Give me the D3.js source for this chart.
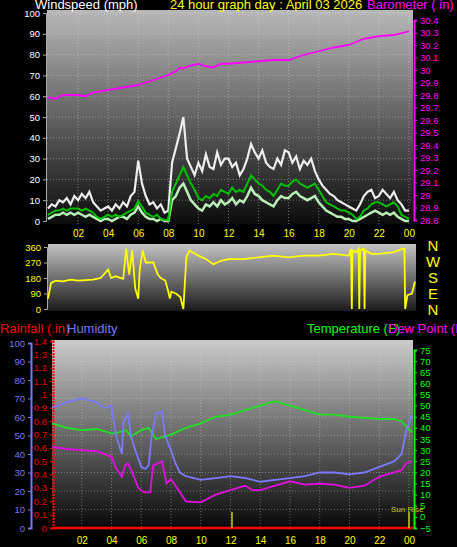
<!DOCTYPE html>
<html><head><meta charset="utf-8">
<script src="https://cdn.jsdelivr.net/npm/d3@7"></script>
<style>body{margin:0;background:#000}svg{display:block}</style>
</head><body><div id="chart"></div>
<script>
// wind, 15 minute samples from 00:00
var windGust = [6,8,7,10, 9,11,8,12, 10,13,11,14, 9,7,5,6, 7,5,8,6, 9,7,12,14, 29,18,12,8, 9,6,8,4,
  5,28,35,42, 50,30,26,22, 28,24,32,26, 25,33,27,30, 30,26,28,22, 25,30,37,33, 30,34,28,26, 25,30,27,34,
  33,28,31,25, 29,27,30,24, 20,17,15,13, 12,10,9,8, 7,6,5,8, 12,14,15,11, 12,15,13,11, 14,10,8,5, 5];
var windAvg = [3,4,5,5, 6,5,6,6, 6,5,6,5, 4,2,1,2, 3,2,3,2, 3,4,5,6, 9.5,7,4,3, 2,3,1,0.5,
  0.5,14,18,22, 26,22,18,15, 11,10,12,11, 13,12,15,14, 13,16,14,15, 14,18,22,20, 18,17,15,14, 12,15,18,17,
  17,19,20,18, 17,16,17,18, 15,12,9,8, 7,6,5,5, 4,3,1,2, 5,6,8,9, 9,8,7,8, 9,7,3,2, 1];
var windSpeed = [1,2,3,3, 4,3,4,3, 4,3,2,3, 2,1,0,1, 1,0,1,2, 2,1,3,4, 7,4,2,1, 1,0,1,0,
  0,10,12,16, 18,14,10,8, 6,5,8,7, 9,7,10,8, 9,11,8,10, 9,12,16,13, 12,10,9,8, 7,10,12,11,
  11,13,14,12, 11,10,11,12, 9,7,5,4, 3,2,2,1, 1,0,0,1, 2,3,4,5, 4,3,4,3, 4,2,1,0, 0];

var baroHour = [0,0.5,1,2,2.5,3,4,5,6,7,8,8.5,8.8,9,9.3,10,10.5,11,11.5,12,13,14,15,16,17,18,19,20,21,22,23,24];
var baroVal = [29.78,29.77,29.80,29.80,29.79,29.82,29.84,29.86,29.88,29.92,29.96,29.99,30.02,30.01,30.03,30.05,30.03,30.02,30.05,30.05,30.06,30.07,30.08,30.08,30.12,30.15,30.18,30.20,30.25,30.27,30.28,30.31];

var dirHour = [0,0.2,0.5,1,1.5,2,3,3.5,4,4.2,4.5,5,5.2,5.4,5.6,5.8,6,6.1,6.3,6.5,7,7.3,7.5,7.8,8,8.1,8.2,8.5,8.8,9,9.2,9.4,9.6,10,10.5,11,11.5,12,13,14,15,16,17,18,19,20,20.15,20.2,20.25,20.5,20.65,20.7,20.75,21.0,21.05,21.1,21.5,22,23,23.6,23.7,23.75,23.9,24.2,24.4];
var dirVal = [60,150,165,160,170,165,170,180,230,180,190,175,350,200,340,120,60,230,340,270,270,200,180,165,100,60,100,90,70,0,300,340,330,310,290,260,280,290,290,300,310,300,310,310,320,310,350,0,340,330,350,0,340,350,0,340,320,320,330,350,350,0,80,90,160];

var humHour = [0,1,2,3,3.5,4,4.1,4.3,4.5,4.7,4.8,5,5.1,5.3,5.6,6,6.3,6.5,6.7,7,7.4,7.6,8,8.3,8.6,9,10,11,12,13,14,15,16,17,18,19,20,21,22,23,23.5,23.8,24.2];
var humVal = [65,68,70,68,65,66,60,50,45,40,57,60,62,50,42,33,32,34,50,62,63,50,42,35,30,28,26,27,28,27,25,26,27,28,30,30,29,30,33,36,40,52,61];
var tempHour = [0,1,2,3,4,4.5,5,5.3,6,6.5,7,8,9,10,11,12,13,14,15,16,17,18,19,20,21,22,23,23.5,24.2];
var tempVal = [42,40,39,39.5,37.5,38,39,36,39,40,35,37,40,42,45,46,48,50,52,50,48,46,46,45,44.5,44,44,43,38];
var dewHour = [0,1,2,3,4,4.3,4.7,4.9,5.1,5.4,5.8,6.2,6.6,6.8,7.4,7.7,8,8.5,9,10,11,12,13,13.5,14,15,16,17,18,19,20,21,22,23,23.5,23.8,24.2];
var dewVal = [31.5,30.5,30,29.5,27,22,18,23,24,20,13,11,11,23,25,15,17,12,7,6.5,10,12,14,12,12,14,16,14.5,15,14.5,13,14,18,20,21,24,25];

var hourTicks = [2,4,6,8,10,12,14,16,18,20,22,24];
var hourLabels = ["02","04","06","08","10","12","14","16","18","20","22","00"];
var compass = ["N","W","S","E","N"];

var W = 457, H = 547;
var svg = d3.select("#chart").append("svg").attr("width", W).attr("height", H)
  .style("font-family", "Liberation Sans, Arial, sans-serif");
var defs = svg.append("defs");
function grad(id, top, bottom) {
  var g = defs.append("linearGradient").attr("id", id).attr("x1", 0).attr("y1", 0).attr("x2", 0).attr("y2", 1);
  g.append("stop").attr("offset", "0%").attr("stop-color", top);
  g.append("stop").attr("offset", "100%").attr("stop-color", bottom);
}
grad("g1", "#b8b8b8", "#0c0c0c");
grad("g2", "#c4c4c4", "#1a1a1a");
grad("g3", "#cacaca", "#050505");

var qh = windGust.map(function(d, i) { return i / 4; });

// ---------- top panel: wind + barometer
var x1 = d3.scaleLinear().domain([0, 24.47]).range([48, 416]);
var yW = d3.scaleLinear().domain([0, 100]).range([221, 13]);
var yB = d3.scaleLinear().domain([28.8, 30.4]).range([220, 20]);
svg.append("rect").attr("x", 47).attr("y", 10).attr("width", 366).attr("height", 214).attr("fill", "url(#g1)");
var grid1 = svg.append("g").attr("stroke", "#ddd").attr("stroke-opacity", 0.45).attr("stroke-dasharray", "1,2");
grid1.selectAll("line.h").data(d3.range(10, 101, 10)).join("line")
  .attr("x1", 47).attr("x2", 413).attr("y1", yW).attr("y2", yW);
grid1.selectAll("line.v").data(hourTicks).join("line")
  .attr("x1", x1).attr("x2", x1).attr("y1", 10).attr("y2", 224);

svg.append("g").attr("transform", "translate(46,0)")
  .call(d3.axisLeft(yW).tickValues(d3.range(0, 101, 10)).tickSize(3))
  .call(function(g) { g.select(".domain").attr("stroke", "#aaa"); g.selectAll("line").attr("stroke", "#aaa");
    g.selectAll("text").attr("fill", "#fff").attr("font-size", 9.5); });
svg.append("g").attr("transform", "translate(414,0)")
  .call(d3.axisRight(yB).tickValues(d3.range(28.8, 30.41, 0.1)).tickFormat(function(d) { return +d.toFixed(1); }).tickSize(3))
  .call(function(g) { g.select(".domain").attr("stroke", "#f0f").attr("stroke-width", 2); g.selectAll("line").attr("stroke", "#f0f");
    g.selectAll("text").attr("fill", "#f0f").attr("font-size", 9.5); });
svg.append("g").attr("transform", "translate(0,225)")
  .call(d3.axisBottom(x1).tickValues(hourTicks).tickFormat(function(d, i) { return hourLabels[i]; }).tickSize(0))
  .call(function(g) { g.select(".domain").remove(); g.selectAll("text").attr("fill", "#ff0").attr("font-size", 10).attr("dy", "0.9em"); });

function qline(xs, ys, data) {
  return d3.line().x(function(d, i) { return xs(qh[i]); }).y(function(d) { return ys(d); })(data);
}
svg.append("path").attr("d", qline(x1, yW, windGust)).attr("fill", "none").attr("stroke", "#eee").attr("stroke-width", 2.2);
svg.append("path").attr("d", qline(x1, yW, windSpeed)).attr("fill", "none").attr("stroke", "#b8f0b8").attr("stroke-width", 2.5);
svg.append("path").attr("d", qline(x1, yW, windAvg)).attr("fill", "none").attr("stroke", "#00c000").attr("stroke-width", 2);
svg.append("path").datum(baroHour.map(function(h, i) { return [h, baroVal[i]]; }))
  .attr("d", d3.line().x(function(d) { return x1(d[0]); }).y(function(d) { return yB(d[1]); }))
  .attr("fill", "none").attr("stroke", "#f0f").attr("stroke-width", 1.8);

svg.append("text").attr("x", 35).attr("y", 9).attr("fill", "#fff").attr("font-size", 13).text("Windspeed (mph)");
svg.append("text").attr("x", 170).attr("y", 9).attr("fill", "#ff0").attr("font-size", 13).text("24 hour graph day : April 03 2026");
svg.append("text").attr("x", 367).attr("y", 9).attr("fill", "#f0f").attr("font-size", 13).text("Barometer ( in)");

// ---------- direction panel
var yD = d3.scaleLinear().domain([0, 360]).range([309, 247]);
svg.append("rect").attr("x", 48).attr("y", 244).attr("width", 368).attr("height", 67).attr("fill", "url(#g2)");
svg.append("g").attr("transform", "translate(47,0)")
  .call(d3.axisLeft(yD).tickValues([0, 90, 180, 270, 360]).tickSize(3))
  .call(function(g) { g.select(".domain").attr("stroke", "#aaa"); g.selectAll("line").attr("stroke", "#aaa");
    g.selectAll("text").attr("fill", "#ff0").attr("font-size", 9.5); });
svg.append("path").datum(dirHour.map(function(h, i) { return [h, dirVal[i]]; }))
  .attr("d", d3.line().x(function(d) { return x1(d[0]); }).y(function(d) { return yD(d[1]); }))
  .attr("fill", "none").attr("stroke", "#ff0").attr("stroke-width", 1.8);
svg.selectAll("text.cmp").data(compass).join("text").attr("class", "cmp")
  .attr("x", 433).attr("y", function(d, i) { return 251 + i * 16; }).attr("text-anchor", "middle")
  .attr("fill", "#ff0").attr("font-size", 15).text(function(d) { return d; });

// ---------- bottom panel
var x3 = d3.scaleLinear().domain([0, 24.27]).range([52, 413]);
var yH = d3.scaleLinear().domain([0, 100]).range([528, 343]);
var yR = d3.scaleLinear().domain([0, 1.4]).range([528, 341]);
var yT = d3.scaleLinear().domain([-5, 75]).range([528, 350]);
svg.append("rect").attr("x", 52).attr("y", 340).attr("width", 361).attr("height", 191).attr("fill", "url(#g3)");
var grid3 = svg.append("g").attr("stroke", "#ddd").attr("stroke-opacity", 0.4).attr("stroke-dasharray", "1,2");
grid3.selectAll("line.h").data(d3.range(10, 101, 10)).join("line")
  .attr("x1", 52).attr("x2", 413).attr("y1", yH).attr("y2", yH);
grid3.selectAll("line.v").data(hourTicks).join("line")
  .attr("x1", x3).attr("x2", x3).attr("y1", 340).attr("y2", 530);

svg.append("g").attr("transform", "translate(31,0)")
  .call(d3.axisLeft(yH).tickValues(d3.range(0, 101, 10)).tickSize(3))
  .call(function(g) { g.select(".domain").attr("stroke", "#77f").attr("stroke-width", 2); g.selectAll("line").attr("stroke", "#77f");
    g.selectAll("text").attr("fill", "#77f").attr("font-size", 9.5); });
svg.append("g").attr("transform", "translate(53,0)")
  .call(d3.axisLeft(yR).tickValues(d3.range(0, 1.41, 0.1)).tickFormat(function(d) { return +d.toFixed(1); }).tickSize(3))
  .call(function(g) { g.select(".domain").attr("stroke", "#f00").attr("stroke-width", 2).attr("stroke-dasharray", "2,1"); g.selectAll("line").attr("stroke", "#f00");
    g.selectAll("text").attr("fill", "#e00").attr("font-size", 9.5); });
svg.append("g").attr("transform", "translate(414,0)")
  .call(d3.axisRight(yT).tickValues(d3.range(-5, 76, 5)).tickSize(3))
  .call(function(g) { g.select(".domain").attr("stroke", "#0f0").attr("stroke-width", 2); g.selectAll("line").attr("stroke", "#0f0");
    g.selectAll("text").attr("fill", "#0f0").attr("font-size", 9.5); });
svg.append("g").attr("transform", "translate(0,532)")
  .call(d3.axisBottom(x3).tickValues(hourTicks).tickFormat(function(d, i) { return hourLabels[i]; }).tickSize(0))
  .call(function(g) { g.select(".domain").remove(); g.selectAll("text").attr("fill", "#ff0").attr("font-size", 10).attr("dy", "0.9em"); });

function hl(hours, vals, ys) {
  return d3.line().x(function(d) { return x3(d[0]); }).y(function(d) { return ys(d[1]); })(hours.map(function(h, i) { return [h, vals[i]]; }));
}
svg.append("path").attr("d", hl(tempHour, tempVal, yT)).attr("fill", "none").attr("stroke", "#22e022").attr("stroke-width", 1.8);
svg.append("path").attr("d", hl(humHour, humVal, yH)).attr("fill", "none").attr("stroke", "#7a7aff").attr("stroke-width", 1.8);
svg.append("path").attr("d", hl(dewHour, dewVal, yT)).attr("fill", "none").attr("stroke", "#e010e0").attr("stroke-width", 1.8);
svg.append("line").attr("x1", 53).attr("x2", 413).attr("y1", yR(0)).attr("y2", yR(0)).attr("stroke", "#f00").attr("stroke-width", 2.5);

// sun markers
svg.selectAll("line.sun").data([12.1, 24]).join("line").attr("class", "sun")
  .attr("x1", x3).attr("x2", x3).attr("y1", 512).attr("y2", 528).attr("stroke", "#cc0").attr("stroke-width", 1.5);
svg.append("text").attr("x", 391).attr("y", 512).attr("fill", "#cc0").attr("font-size", 8).text("Sun Rise");

svg.append("text").attr("x", 0).attr("y", 333).attr("fill", "#f00").attr("font-size", 13).text("Rainfall (.in)");
svg.append("text").attr("x", 67).attr("y", 333).attr("fill", "#77f").attr("font-size", 13).text("Humidity");
svg.append("text").attr("x", 307).attr("y", 333).attr("fill", "#0f0").attr("font-size", 13).text("Temperature (F)");
svg.append("text").attr("x", 388).attr("y", 333).attr("fill", "#f0f").attr("font-size", 13).text("Dew Point (F)");
</script></body></html>
